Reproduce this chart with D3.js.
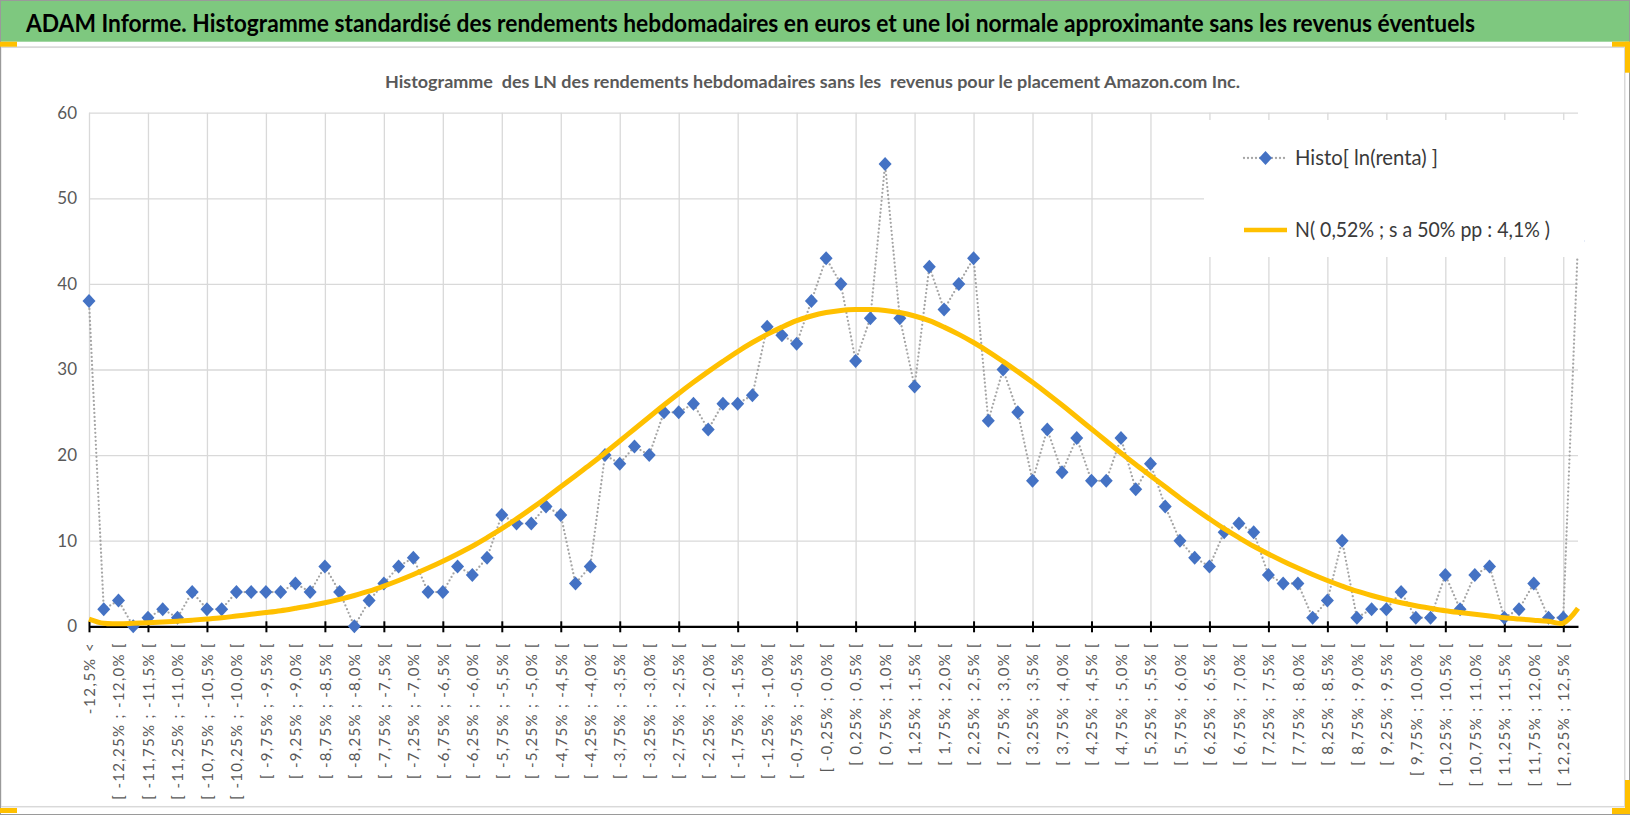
<!DOCTYPE html>
<html lang="fr">
<head>
<meta charset="utf-8">
<title>ADAM Informe - Histogramme Amazon.com Inc.</title>
<script src="https://cdn.jsdelivr.net/npm/d3@7"></script>
<style>
  html, body { margin: 0; padding: 0; background: #fff; }
  svg { display: block; }
</style>
</head>
<body>
<div id="chart"></div>
<script>
// Classes des LN des rendements hebdomadaires (une étiquette sur deux est affichée)
const categories = [
  "-12,5% <",
  "[ -12,5% ; -12,25% [", "[ -12,25% ; -12,0% [", "[ -12,0% ; -11,75% [", "[ -11,75% ; -11,5% [",
  "[ -11,5% ; -11,25% [", "[ -11,25% ; -11,0% [", "[ -11,0% ; -10,75% [", "[ -10,75% ; -10,5% [",
  "[ -10,5% ; -10,25% [", "[ -10,25% ; -10,0% [", "[ -10,0% ; -9,75% [", "[ -9,75% ; -9,5% [",
  "[ -9,5% ; -9,25% [", "[ -9,25% ; -9,0% [", "[ -9,0% ; -8,75% [", "[ -8,75% ; -8,5% [",
  "[ -8,5% ; -8,25% [", "[ -8,25% ; -8,0% [", "[ -8,0% ; -7,75% [", "[ -7,75% ; -7,5% [",
  "[ -7,5% ; -7,25% [", "[ -7,25% ; -7,0% [", "[ -7,0% ; -6,75% [", "[ -6,75% ; -6,5% [",
  "[ -6,5% ; -6,25% [", "[ -6,25% ; -6,0% [", "[ -6,0% ; -5,75% [", "[ -5,75% ; -5,5% [",
  "[ -5,5% ; -5,25% [", "[ -5,25% ; -5,0% [", "[ -5,0% ; -4,75% [", "[ -4,75% ; -4,5% [",
  "[ -4,5% ; -4,25% [", "[ -4,25% ; -4,0% [", "[ -4,0% ; -3,75% [", "[ -3,75% ; -3,5% [",
  "[ -3,5% ; -3,25% [", "[ -3,25% ; -3,0% [", "[ -3,0% ; -2,75% [", "[ -2,75% ; -2,5% [",
  "[ -2,5% ; -2,25% [", "[ -2,25% ; -2,0% [", "[ -2,0% ; -1,75% [", "[ -1,75% ; -1,5% [",
  "[ -1,5% ; -1,25% [", "[ -1,25% ; -1,0% [", "[ -1,0% ; -0,75% [", "[ -0,75% ; -0,5% [",
  "[ -0,5% ; -0,25% [", "[ -0,25% ; 0,0% [", "[ 0,0% ; 0,25% [", "[ 0,25% ; 0,5% [",
  "[ 0,5% ; 0,75% [", "[ 0,75% ; 1,0% [", "[ 1,0% ; 1,25% [", "[ 1,25% ; 1,5% [",
  "[ 1,5% ; 1,75% [", "[ 1,75% ; 2,0% [", "[ 2,0% ; 2,25% [", "[ 2,25% ; 2,5% [",
  "[ 2,5% ; 2,75% [", "[ 2,75% ; 3,0% [", "[ 3,0% ; 3,25% [", "[ 3,25% ; 3,5% [",
  "[ 3,5% ; 3,75% [", "[ 3,75% ; 4,0% [", "[ 4,0% ; 4,25% [", "[ 4,25% ; 4,5% [",
  "[ 4,5% ; 4,75% [", "[ 4,75% ; 5,0% [", "[ 5,0% ; 5,25% [", "[ 5,25% ; 5,5% [",
  "[ 5,5% ; 5,75% [", "[ 5,75% ; 6,0% [", "[ 6,0% ; 6,25% [", "[ 6,25% ; 6,5% [",
  "[ 6,5% ; 6,75% [", "[ 6,75% ; 7,0% [", "[ 7,0% ; 7,25% [", "[ 7,25% ; 7,5% [",
  "[ 7,5% ; 7,75% [", "[ 7,75% ; 8,0% [", "[ 8,0% ; 8,25% [", "[ 8,25% ; 8,5% [",
  "[ 8,5% ; 8,75% [", "[ 8,75% ; 9,0% [", "[ 9,0% ; 9,25% [", "[ 9,25% ; 9,5% [",
  "[ 9,5% ; 9,75% [", "[ 9,75% ; 10,0% [", "[ 10,0% ; 10,25% [", "[ 10,25% ; 10,5% [",
  "[ 10,5% ; 10,75% [", "[ 10,75% ; 11,0% [", "[ 11,0% ; 11,25% [", "[ 11,25% ; 11,5% [",
  "[ 11,5% ; 11,75% [", "[ 11,75% ; 12,0% [", "[ 12,0% ; 12,25% [", "[ 12,25% ; 12,5% [",
  "12,5% <="
];

// Effectifs observés : Histo[ ln(renta) ]
const histo = [
  38,
  2, 3, 0, 1,   2, 1, 4, 2,   2, 4, 4, 4,   4, 5, 4, 7,   4, 0, 3, 5,
  7, 8, 4, 4,   7, 6, 8, 13,  12, 12, 14, 13, 5, 7, 20, 19, 21, 20, 25, 25,
  26, 23, 26, 26, 27, 35, 34, 33, 38, 43, 40, 31, 36, 54, 36, 28,
  42, 37, 40, 43, 24, 30, 25, 17, 23, 18, 22, 17, 17, 22, 16, 19,
  14, 10, 8, 7, 11, 12, 11, 6,  5, 5, 1, 3,   10, 1, 2, 2,   4, 1, 1, 6,
  2, 6, 7, 1,   2, 5, 1, 1,
  45
];

// Loi normale approximante N( 0,52% ; 4,1% )
const normale = [
  0.85,
  0.35, 0.3, 0.35, 0.42,  0.5, 0.6, 0.72, 0.85,  1.0, 1.2, 1.4, 1.6,  1.82, 2.1, 2.4, 2.75,
  3.15, 3.6, 4.1, 4.7,    5.35, 6.05, 6.8, 7.6,  8.45, 9.35, 10.35, 11.4, 12.55, 13.75, 15.0, 16.3,
  17.6, 18.9, 20.25, 21.65, 23.05, 24.45, 25.85, 27.2, 28.5, 29.75, 30.95, 32.1, 33.15, 34.1, 34.95, 35.7,
  36.25, 36.65, 36.9, 37.0, 37.0, 36.9, 36.65, 36.25, 35.7, 34.95, 34.1, 33.15, 32.1, 30.95, 29.75, 28.5,
  27.2, 25.85, 24.45, 23.05, 21.65, 20.25, 18.9, 17.6, 16.3, 15.0, 13.75, 12.55, 11.4, 10.35, 9.35, 8.45,
  7.6, 6.8, 6.05, 5.35,  4.7, 4.1, 3.6, 3.15,  2.75, 2.4, 2.1, 1.82,  1.6, 1.4, 1.2, 1.0,
  0.85, 0.72, 0.58, 0.38,
  2.1
];

const yTicks = [0, 10, 20, 30, 40, 50, 60];

const titre = "ADAM Informe. Histogramme standardisé des rendements hebdomadaires en euros et une loi normale approximante sans les revenus éventuels";
const sousTitre = "Histogramme  des LN des rendements hebdomadaires sans les  revenus pour le placement Amazon.com Inc.";
const legende = ["Histo[ ln(renta) ]", "N( 0,52% ; s a 50% pp : 4,1% )"];

function renderChart() {
  const width = 1630, height = 815;
  const left = 89, right = 1578, top = 112.7, bottom = 626.3;
  const font = "Lato, 'Liberation Sans', Arial, sans-serif";
  const gris = "#595959";

  const svg = d3.select("#chart").append("svg")
    .attr("width", width)
    .attr("height", height)
    .attr("viewBox", `0 0 ${width} ${height}`);

  // Fond, bandeau vert et cadres
  svg.append("rect").attr("width", width).attr("height", height).attr("fill", "#fff");
  svg.append("rect").attr("x", 0).attr("y", 0).attr("width", width).attr("height", 41.7).attr("fill", "#7ec87f");
  svg.append("line").attr("x1", 0).attr("x2", width).attr("y1", 47.3).attr("y2", 47.3)
    .attr("stroke", "#d4d4d4").attr("stroke-width", 1.5);
  svg.append("rect").attr("x", 0.75).attr("y", 47.3).attr("width", 1624).attr("height", 759.4)
    .attr("fill", "none").attr("stroke", "#d9d9d9").attr("stroke-width", 1.5);
  svg.append("rect").attr("x", 0.5).attr("y", 0.5).attr("width", width - 1).attr("height", height - 1)
    .attr("fill", "none").attr("stroke", "#9a9a9a").attr("stroke-width", 1);

  // petites poignées jaunes de sélection (coins)
  const poignees = svg.append("g").attr("fill", "#ffc000");
  poignees.append("rect").attr("x", 0).attr("y", 41.7).attr("width", 17).attr("height", 5);
  poignees.append("rect").attr("x", 1612).attr("y", 41.7).attr("width", 18).attr("height", 5);
  poignees.append("rect").attr("x", 1625).attr("y", 41.7).attr("width", 5).attr("height", 31);
  poignees.append("rect").attr("x", 0).attr("y", 808).attr("width", 17).attr("height", 5);
  poignees.append("rect").attr("x", 1625).attr("y", 780).attr("width", 5).attr("height", 34);
  poignees.append("rect").attr("x", 1612).attr("y", 808).attr("width", 18).attr("height", 6);

  // Titres
  svg.append("text")
    .attr("x", 26).attr("y", 32.3)
    .attr("font-family", font).attr("font-size", "24px").attr("font-weight", "700")
    .attr("fill", "#000")
    .attr("textLength", 1449).attr("lengthAdjust", "spacingAndGlyphs")
    .text(titre);

  svg.append("text")
    .attr("x", 385).attr("y", 88.3)
    .attr("font-family", font).attr("font-size", "17px").attr("font-weight", "700")
    .attr("fill", gris)
    .style("white-space", "pre")
    .attr("textLength", 855).attr("lengthAdjust", "spacingAndGlyphs")
    .text(sousTitre);

  // Echelles
  const x = d3.scalePoint().domain(categories).range([left, right]);
  const y = d3.scaleLinear().domain([0, 60]).range([bottom, top]);

  const cats4 = categories.filter((d, i) => i % 4 === 0);
  const cats2 = categories.filter((d, i) => i % 2 === 0);

  // Quadrillage horizontal
  const gridY = svg.append("g")
    .attr("transform", `translate(${left},0)`)
    .call(d3.axisLeft(y).tickValues(yTicks.filter(v => v > 0)).tickSize(-(right - left)).tickFormat(""));
  gridY.select(".domain").remove();
  gridY.selectAll(".tick line").attr("stroke", "#d9d9d9").attr("stroke-width", 1.3);

  // Quadrillage vertical (toutes les 4 classes)
  const gridX = svg.append("g")
    .attr("transform", `translate(0,${bottom})`)
    .call(d3.axisBottom(x).tickValues(cats4).tickSize(-(bottom - top)).tickFormat(""));
  gridX.select(".domain").remove();
  gridX.selectAll(".tick line").attr("stroke", "#d9d9d9").attr("stroke-width", 1.3);

  // Axe horizontal avec graduations croisées
  const axeX = svg.append("g")
    .attr("transform", `translate(0,${bottom})`)
    .call(d3.axisBottom(x).tickValues(cats4).tickSizeOuter(0).tickFormat(""));
  axeX.select(".domain").attr("stroke", "#000").attr("stroke-width", 2.2);
  axeX.selectAll(".tick line").attr("stroke", "#000").attr("stroke-width", 2).attr("y1", -5).attr("y2", 6);

  // Etiquettes de classes, verticales
  const labelsX = svg.append("g")
    .attr("transform", `translate(0,${bottom})`)
    .call(d3.axisBottom(x).tickValues(cats2).tickSize(0).tickFormat(d => d));
  labelsX.select(".domain").remove();
  const txtX = labelsX.selectAll(".tick text")
    .attr("font-family", font).attr("font-size", "15px").attr("fill", gris)
    .attr("text-anchor", "end")
    .attr("transform", "rotate(-90)")
    .attr("x", -17).attr("y", 0).attr("dy", "0.35em")
    .style("white-space", "pre");

  // longueur des étiquettes calée sur trois repères
  const reperes = { "-12,5% <": 69, "[ -12,25% ; -12,0% [": 160, "[ 6,25% ; 6,5% [": 123 };
  let ratios = [];
  txtX.each(function(d) {
    if (reperes[d]) ratios.push(reperes[d] / this.getComputedTextLength());
  });
  const k = d3.mean(ratios) || 1;
  txtX.each(function() {
    const len = this.getComputedTextLength();
    d3.select(this).attr("textLength", len * k).attr("lengthAdjust", "spacing");
  });

  // Etiquettes de l'axe vertical
  const axeY = svg.append("g")
    .attr("transform", "translate(77,0)")
    .call(d3.axisLeft(y).tickValues(yTicks).tickSize(0).tickPadding(0));
  axeY.select(".domain").remove();
  axeY.selectAll(".tick text")
    .attr("font-family", font).attr("font-size", "17px").attr("fill", gris);

  // Série Histo : ligne pointillée grise + losanges bleus
  const ligne = d3.line()
    .x((d, i) => x(categories[i]))
    .y(d => y(d));

  svg.append("path")
    .datum(histo)
    .attr("d", ligne)
    .attr("fill", "none")
    .attr("stroke", "#a5a5a5")
    .attr("stroke-width", 2.3)
    .attr("stroke-dasharray", "0 4")
    .attr("stroke-linecap", "round");

  const losange = "M0,-7L6.5,0L0,7L-6.5,0Z";
  svg.append("g")
    .selectAll("path")
    .data(histo)
    .join("path")
    .attr("d", losange)
    .attr("transform", (d, i) => `translate(${x(categories[i])},${y(d)})`)
    .attr("fill", "#4472c4");

  // Loi normale lissée
  svg.append("path")
    .datum(normale)
    .attr("d", ligne.curve(d3.curveCatmullRom.alpha(0.5)))
    .attr("fill", "none")
    .attr("stroke", "#ffc000")
    .attr("stroke-width", 5)
    .attr("stroke-linejoin", "round");

  // Légende (fond blanc par-dessus le tracé)
  const leg = svg.append("g");
  leg.append("rect")
    .attr("x", 1204).attr("y", 120).attr("width", 380).attr("height", 137)
    .attr("fill", "#fff");

  leg.append("line")
    .attr("x1", 1244).attr("x2", 1287).attr("y1", 158).attr("y2", 158)
    .attr("stroke", "#a5a5a5").attr("stroke-width", 2.3)
    .attr("stroke-dasharray", "0 4").attr("stroke-linecap", "round");
  leg.append("path")
    .attr("d", losange)
    .attr("transform", "translate(1265.5,158)")
    .attr("fill", "#4472c4");

  leg.append("line")
    .attr("x1", 1244).attr("x2", 1287).attr("y1", 230).attr("y2", 230)
    .attr("stroke", "#ffc000").attr("stroke-width", 4.5);

  leg.selectAll("text")
    .data(legende)
    .join("text")
    .attr("x", 1295)
    .attr("y", (d, i) => i === 0 ? 158 : 230)
    .attr("dy", "0.35em")
    .attr("font-family", font).attr("font-size", "21px").attr("fill", "#3a3a3a")
    .attr("textLength", (d, i) => i === 0 ? 143 : 255)
    .attr("lengthAdjust", "spacingAndGlyphs")
    .text(d => d);
}

renderChart();
</script>
</body>
</html>
